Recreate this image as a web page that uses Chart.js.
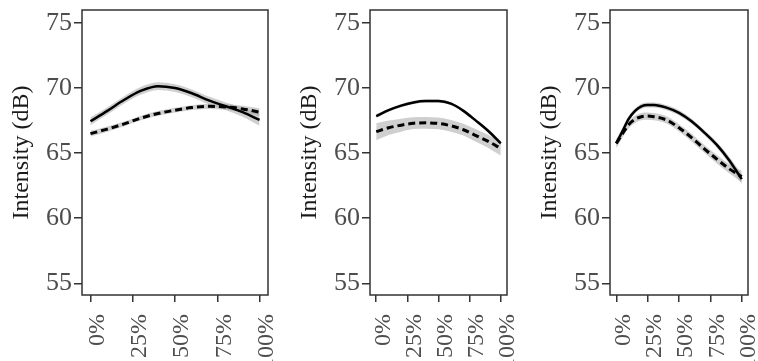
<!DOCTYPE html>
<html>
<head>
<meta charset="utf-8">
<script src="https://cdn.jsdelivr.net/npm/chart.js@4"></script>
<style>
  html, body { margin: 0; padding: 0; background: #fff; }
  #wrap { position: relative; width: 758px; height: 361px; overflow: hidden; }
  canvas { position: absolute; top: 0; }
  .probe { font-family: 'Liberation Serif'; position: absolute; left: -999px; }
</style>
</head>
<body>
<div id="wrap">
  <canvas id="p1" width="285" height="361" style="left:0px"></canvas>
  <canvas id="p2" width="237" height="361" style="left:288px"></canvas>
  <canvas id="p3" width="230" height="361" style="left:528px"></canvas>
</div>
<span class="probe">Intensity 0%</span>
<script>
  // x positions (% of duration)
  var x10 = [0, 10, 20, 30, 40, 50, 60, 70, 80, 90, 100];
  var x3 = [0, 5, 10, 15, 20, 25, 30, 40, 50, 60, 70, 80, 90, 100];

  var xTicks = [0, 25, 50, 75, 100];
  var yTicks = [55, 60, 65, 70, 75];

  // panel 1
  var p1Solid = [67.45, 68.25, 69.1, 69.8, 70.15, 70.0, 69.6, 69.05, 68.6, 68.15, 67.55];
  var p1SolidSe = [0.3, 0.28, 0.28, 0.3, 0.3, 0.3, 0.3, 0.3, 0.3, 0.35, 0.45];
  var p1Dashed = [66.5, 66.85, 67.25, 67.7, 68.05, 68.3, 68.5, 68.6, 68.55, 68.4, 68.15];
  var p1DashedSe = [0.22, 0.2, 0.18, 0.18, 0.18, 0.18, 0.18, 0.2, 0.22, 0.25, 0.3];

  // panel 2
  var p2Solid = [67.85, 68.3, 68.65, 68.9, 69.0, 69.0, 68.8, 68.25, 67.5, 66.7, 65.75];
  var p2SolidSe = [0.15, 0.12, 0.12, 0.12, 0.12, 0.12, 0.12, 0.12, 0.12, 0.14, 0.18];
  var p2Dashed = [66.65, 66.95, 67.15, 67.3, 67.33, 67.28, 67.1, 66.8, 66.35, 65.9, 65.36];
  var p2DashedSe = [0.65, 0.55, 0.5, 0.45, 0.45, 0.45, 0.45, 0.45, 0.48, 0.5, 0.55];

  // panel 3
  var p3Solid = [65.75, 66.7, 67.65, 68.25, 68.6, 68.7, 68.7, 68.5, 68.1, 67.45, 66.6, 65.65, 64.45, 63.0];
  var p3SolidSe = [0.3, 0.25, 0.22, 0.2, 0.2, 0.2, 0.2, 0.2, 0.2, 0.2, 0.2, 0.22, 0.28, 0.4];
  var p3Dashed = [65.75, 66.5, 67.2, 67.6, 67.8, 67.85, 67.8, 67.55, 66.95, 66.2, 65.35, 64.55, 63.8, 63.2];
  var p3DashedSe = [0.35, 0.3, 0.28, 0.28, 0.28, 0.28, 0.28, 0.28, 0.28, 0.3, 0.3, 0.32, 0.35, 0.45];

  var serif = "'Liberation Serif', serif";
  var bandColor = 'rgba(160,160,160,0.5)';

  function pts(xs, ys, se, sign) {
    return xs.map(function (x, i) {
      return { x: x, y: ys[i] + sign * (se ? se[i] : 0) };
    });
  }

  var framePlugin = {
    id: 'frame',
    afterDatasetsDraw: function (chart) {
      var a = chart.chartArea, c = chart.ctx;
      c.save();
      c.strokeStyle = '#333';
      c.lineWidth = 1.5;
      c.strokeRect(a.left, a.top, a.right - a.left, a.bottom - a.top);
      c.restore();
    }
  };

  function makePanel(id, xs, solid, solidSe, dashed, dashedSe, padRight) {
    var line = { pointRadius: 0, borderColor: '#000', fill: false, cubicInterpolationMode: 'monotone' };
    var band = { pointRadius: 0, borderWidth: 0, backgroundColor: bandColor, cubicInterpolationMode: 'monotone' };
    new Chart(document.getElementById(id).getContext('2d'), {
      type: 'line',
      data: {
        datasets: [
          Object.assign({ data: pts(xs, solid, null, 0), borderWidth: 2.5 }, line),
          Object.assign({ data: pts(xs, dashed, null, 0), borderWidth: 3, borderDash: [7, 4] }, line),
          Object.assign({ data: pts(xs, solid, solidSe, -1), fill: false }, band),
          Object.assign({ data: pts(xs, solid, solidSe, 1), fill: 2 }, band),
          Object.assign({ data: pts(xs, dashed, dashedSe, -1), fill: false }, band),
          Object.assign({ data: pts(xs, dashed, dashedSe, 1), fill: 4 }, band)
        ]
      },
      options: {
        responsive: false,
        animation: false,
        layout: { padding: { left: 0, right: padRight, top: 10, bottom: 0 } },
        plugins: { legend: { display: false }, tooltip: { enabled: false } },
        scales: {
          x: {
            type: 'linear',
            min: -5,
            max: 105,
            afterBuildTicks: function (s) { s.ticks = xTicks.map(function (v) { return { value: v }; }); },
            afterFit: function (s) { s.height = 66; s.paddingLeft = 0; s.paddingRight = 0; },
            border: { display: false },
            grid: { drawOnChartArea: false, drawTicks: true, tickLength: 7, color: '#333', lineWidth: 1.5 },
            ticks: {
              autoSkip: false,
              minRotation: 90,
              maxRotation: 90,
              padding: 12,
              labelOffset: 7,
              color: '#4d4d4d',
              font: { family: serif, size: 24 },
              callback: function (v) { return v + '%'; }
            }
          },
          y: {
            min: 54.1,
            max: 76.0,
            afterBuildTicks: function (s) { s.ticks = yTicks.map(function (v) { return { value: v }; }); },
            afterFit: function (s) { s.width = 82; s.paddingTop = 0; s.paddingBottom = 0; },
            border: { display: false },
            grid: { drawOnChartArea: false, drawTicks: true, tickLength: 8, color: '#333', lineWidth: 1.5 },
            ticks: {
              padding: 2,
              color: '#4d4d4d',
              font: { family: serif, size: 26 }
            },
            title: {
              display: true,
              text: 'Intensity (dB)',
              color: '#1a1a1a',
              padding: { top: 7, bottom: 0 },
              font: { family: serif, size: 24 }
            }
          }
        }
      },
      plugins: [framePlugin]
    });
  }

  function draw() {
    makePanel('p1', x10, p1Solid, p1SolidSe, p1Dashed, p1DashedSe, 17);
    makePanel('p2', x10, p2Solid, p2SolidSe, p2Dashed, p2DashedSe, 18);
    makePanel('p3', x3, p3Solid, p3SolidSe, p3Dashed, p3DashedSe, 10);
  }

  if (document.fonts && document.fonts.load) {
    document.fonts.load("24px 'Liberation Serif'").then(draw, draw);
  } else {
    draw();
  }
</script>
</body>
</html>
